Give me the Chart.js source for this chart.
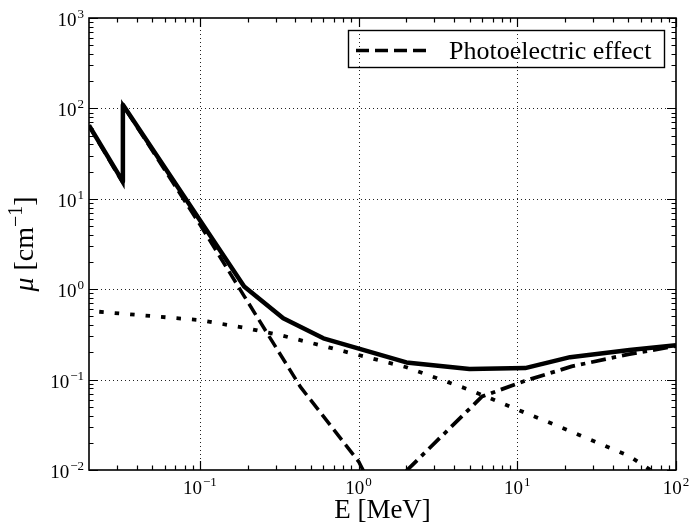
<!DOCTYPE html>
<html>
<head>
<meta charset="utf-8"/>
<style>
  body { margin: 0; background: #fff; }
</style>
</head>
<body>
<canvas id="myChart" width="691" height="524"></canvas>

<script src="https://cdn.jsdelivr.net/npm/chart.js"></script>
<script>
  // energies in MeV, attenuation in cm^-1
  const totalE = [0.02, 0.0327, 0.0327, 0.19, 0.335, 0.6, 2, 5, 11.2, 21.5, 51, 100];
  const totalMu = [65, 15.5, 110, 1.07, 0.476, 0.286, 0.155, 0.131, 0.134, 0.177, 0.212, 0.24];

  const photoE = [0.02, 0.0327, 0.0327, 0.1, 0.19, 0.43, 1, 2];
  const photoMu = [64, 14.9, 109, 5.2, 0.84, 0.083, 0.0124, 0.0012];

  const comptonE = [0.0232, 0.1, 0.19, 0.335, 0.6, 2, 5, 11.2, 21.5, 51, 100];
  const comptonMu = [0.563, 0.455, 0.375, 0.305, 0.235, 0.137, 0.077, 0.043, 0.027, 0.0142, 0.0065];

  const pairE = [2, 6, 11, 22, 50, 100];
  const pairMu = [0.0098, 0.065, 0.096, 0.14, 0.19, 0.235];

  const xMajor = [0.1, 1, 10, 100];
  const xTickExp = ["\u22121", "0", "1", "2"];
  const yMajor = [0.01, 0.1, 1, 10, 100, 1000];
  const yTickExp = ["\u22122", "\u22121", "0", "1", "2", "3"];

  const legendText = "Photoelectric effect";

  function pts(xs, ys) {
    return xs.map((x, i) => ({ x: x, y: ys[i] }));
  }

  function minorTicks(lo, hi) {
    var out = [];
    for (var d = -3; d <= 3; d++) {
      for (var m = 2; m <= 9; m++) {
        var v = m * Math.pow(10, d);
        if (v > lo && v < hi) out.push(v);
      }
    }
    return out;
  }

  var serif = "'Liberation Serif', 'DejaVu Serif', serif";

  // draws 10^exp; align: 'center' or 'right'
  function drawPow(ctx, exp, x, y, align) {
    ctx.font = "19px " + serif;
    var wb = ctx.measureText("10").width;
    ctx.font = "13px " + serif;
    var we = ctx.measureText(exp).width;
    var total = wb + we + 1;
    var x0 = align === "center" ? x - total / 2 : x - total;
    ctx.textAlign = "left";
    ctx.textBaseline = "alphabetic";
    ctx.font = "19px " + serif;
    ctx.fillText("10", x0, y);
    ctx.font = "13px " + serif;
    ctx.fillText(exp, x0 + wb + 1, y - 8);
  }

  const axesPlugin = {
    id: "axesPlugin",
    beforeDatasetsDraw(chart) {
      var ctx = chart.ctx, a = chart.chartArea;
      var xs = chart.scales.x, ys = chart.scales.y;
      ctx.save();
      ctx.strokeStyle = "#222";
      ctx.lineWidth = 1;
      ctx.setLineDash([1, 3]);
      xMajor.forEach(function (v) {
        if (v >= 100) return;
        var px = Math.round(xs.getPixelForValue(v)) + 0.5;
        ctx.beginPath(); ctx.moveTo(px, a.top); ctx.lineTo(px, a.bottom); ctx.stroke();
      });
      yMajor.forEach(function (v) {
        if (v <= 0.01 || v >= 1000) return;
        var py = Math.round(ys.getPixelForValue(v)) + 0.5;
        ctx.beginPath(); ctx.moveTo(a.left, py); ctx.lineTo(a.right, py); ctx.stroke();
      });
      ctx.restore();
    },
    afterDraw(chart) {
      var ctx = chart.ctx, a = chart.chartArea;
      var xs = chart.scales.x, ys = chart.scales.y;
      ctx.save();
      ctx.setLineDash([]);
      ctx.strokeStyle = "#000";
      ctx.fillStyle = "#000";

      // ticks, inward on all sides
      ctx.lineWidth = 1.2;
      function xt(v, len) {
        var px = Math.round(xs.getPixelForValue(v)) + 0.5;
        ctx.beginPath();
        ctx.moveTo(px, a.bottom); ctx.lineTo(px, a.bottom - len);
        ctx.moveTo(px, a.top); ctx.lineTo(px, a.top + len);
        ctx.stroke();
      }
      function yt(v, len) {
        var py = Math.round(ys.getPixelForValue(v)) + 0.5;
        ctx.beginPath();
        ctx.moveTo(a.left, py); ctx.lineTo(a.left + len, py);
        ctx.moveTo(a.right, py); ctx.lineTo(a.right - len, py);
        ctx.stroke();
      }
      minorTicks(0.02, 100).forEach(function (v) { xt(v, 4.5); });
      xMajor.forEach(function (v) { xt(v, 9); });
      minorTicks(0.01, 1000).forEach(function (v) { yt(v, 4.5); });
      yMajor.forEach(function (v) { yt(v, 9); });

      // frame
      ctx.lineWidth = 1.6;
      ctx.strokeRect(a.left, a.top, a.right - a.left, a.bottom - a.top);

      // tick labels
      xMajor.forEach(function (v, i) {
        drawPow(ctx, xTickExp[i], xs.getPixelForValue(v), a.bottom + 24, "center");
      });
      yMajor.forEach(function (v, i) {
        drawPow(ctx, yTickExp[i], a.left - 5, ys.getPixelForValue(v) + 8, "right");
      });

      // x title
      ctx.font = "27px " + serif;
      ctx.textAlign = "center";
      ctx.textBaseline = "alphabetic";
      ctx.fillText("E [MeV]", (a.left + a.right) / 2, 518);

      // y title, rotated
      ctx.save();
      ctx.translate(33, (a.top + a.bottom) / 2);
      ctx.rotate(-Math.PI / 2);
      var parts = [
        { t: "\u03bc", f: "italic 28px " + serif, dy: 0 },
        { t: " [cm", f: "28px " + serif, dy: 0 },
        { t: "\u22121", f: "20px " + serif, dy: -11 },
        { t: "]", f: "28px " + serif, dy: 0 }
      ];
      var w = 0;
      parts.forEach(function (p) { ctx.font = p.f; p.w = ctx.measureText(p.t).width; w += p.w; });
      var cx = -w / 2;
      ctx.textAlign = "left";
      parts.forEach(function (p) { ctx.font = p.f; ctx.fillText(p.t, cx, p.dy); cx += p.w; });
      ctx.restore();

      // legend
      ctx.lineWidth = 1.4;
      ctx.strokeRect(348.5, 30.5, 316, 37);
      ctx.lineWidth = 3.5;
      ctx.setLineDash([13, 6]);
      ctx.beginPath(); ctx.moveTo(356, 50.5); ctx.lineTo(428, 50.5); ctx.stroke();
      ctx.setLineDash([]);
      ctx.font = "26px " + serif;
      ctx.textAlign = "left";
      ctx.fillText(legendText, 449, 59);
      ctx.restore();
    }
  };

  var ctx = document.getElementById("myChart");
  var myChart = new Chart(ctx, {
    type: "line",
    data: {
      datasets: [
        {
          label: "Total",
          data: pts(totalE, totalMu),
          borderColor: "#000",
          borderWidth: 4.5,
          borderJoinStyle: "round",
          clip: 0,
        },
        {
          label: legendText,
          data: pts(photoE, photoMu),
          borderColor: "#000",
          borderWidth: 3.5,
          borderDash: [13, 6],
          clip: 0,
        },
        {
          label: "Compton",
          data: pts(comptonE, comptonMu),
          borderColor: "#000",
          borderWidth: 3.8,
          borderDash: [4.5, 11],
          clip: 0,
        },
        {
          label: "Pair production",
          data: pts(pairE, pairMu),
          borderColor: "#000",
          borderWidth: 3.8,
          borderDash: [15, 6, 4.5, 6],
          clip: 0,
        },
      ],
    },
    options: {
      responsive: false,
      devicePixelRatio: 1,
      animation: false,
      elements: {
        point: { radius: 0, hoverRadius: 0 },
        line: { tension: 0, fill: false },
      },
      layout: {
        padding: { left: 89, right: 15, top: 18, bottom: 54 },
      },
      scales: {
        x: { type: "logarithmic", min: 0.02, max: 100, display: false },
        y: { type: "logarithmic", min: 0.01, max: 1000, display: false },
      },
      plugins: {
        legend: { display: false },
        tooltip: { enabled: false },
      },
    },
    plugins: [axesPlugin],
  });
</script>
</body>
</html>
